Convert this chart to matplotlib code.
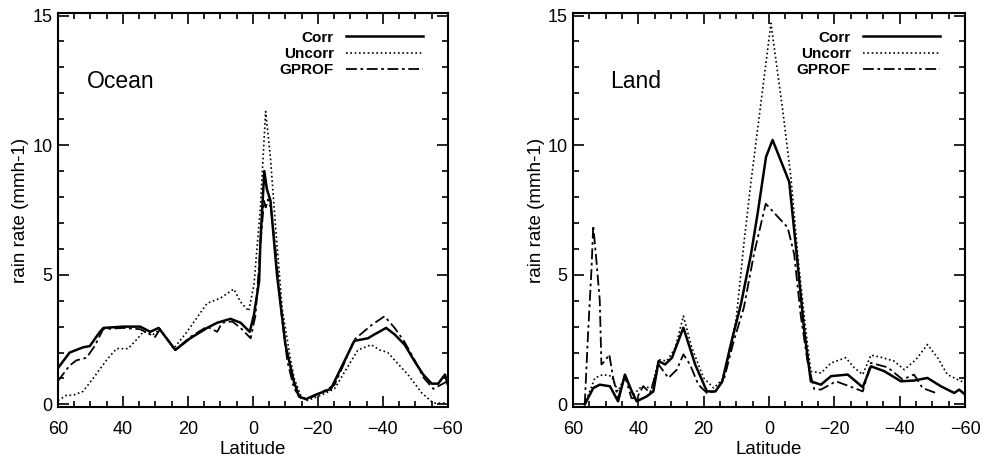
import matplotlib
matplotlib.use('Agg')
import matplotlib.pyplot as plt
from matplotlib.ticker import MultipleLocator

plt.rcParams['font.family'] = ['Liberation Sans', 'DejaVu Sans']

# ocean zonal means (latitude, rain rate)
ocean_corr_lat = [60, 56.4, 52.3, 50.2, 47.1, 46, 40, 34.7, 31.6, 29, 23.9, 19.3, 14.1, 11, 6.9, 3.8, 1.0,
                  -0.3, -1.9, -2.3, -3.5, -4.3, -5.4, -7.4, -10, -12.6, -14.2, -16.3, -18.9, -24, -27.1,
                  -31.2, -35.4, -37.4, -41, -43.6, -46.7, -49.8, -52.4, -55, -57, -59.1, -60]
ocean_corr = [1.4, 2.0, 2.2, 2.25, 2.8, 2.95, 3.0, 3.0, 2.8, 2.95, 2.1, 2.55, 2.95, 3.15, 3.3, 3.15, 2.8,
              3.45, 4.75, 6.3, 9.0, 8.3, 7.86, 5.0, 2.3, 0.88, 0.3, 0.2, 0.35, 0.6, 1.4,
              2.45, 2.55, 2.7, 2.95, 2.7, 2.3, 1.65, 1.15, 0.8, 0.8, 1.15, 0.75]

ocean_uncorr_lat = [60, 57.4, 55.4, 52.3, 49.2, 45.1, 42, 38.4, 35.8, 33.7, 30.6, 28.6, 24.4, 20.3, 14.1,
                    10, 5.9, 3.8, 1.3, -0.3, -2.3, -3.9, -5.4, -6.9, -9.0, -11.5, -12.7, -14.7, -16.8,
                    -20.9, -25.1, -28.2, -32.3, -36.4, -39, -41.5, -45.1, -47.7, -51.9, -55.5, -60]
ocean_uncorr = [0.15, 0.35, 0.35, 0.5, 1.0, 1.7, 2.15, 2.15, 2.5, 2.8, 2.7, 2.9, 2.15, 2.8, 3.9,
                4.1, 4.45, 3.95, 3.6, 4.6, 7.6, 11.3, 9.5, 6.95, 3.7, 1.78, 1.0, 0.35, 0.15,
                0.35, 0.6, 1.25, 2.1, 2.3, 2.1, 2.0, 1.5, 1.15, 0.45, 0.05, 0.05]

ocean_gprof_lat = [60, 56.4, 54.3, 51.2, 48.7, 46.1, 40, 34.7, 30.1, 28.6, 23.9, 19.3, 14.1, 11, 9.5, 6.4,
                   3.8, 0.7, -0.8, -2.4, -3.4, -4.0, -4.6, -5.5, -7, -8.6, -10.6, -12.7, -14.7, -16.8,
                   -20.9, -25.1, -27.6, -31.2, -36.4, -40.5, -43.6, -46.7, -49.8, -52.4, -55.5, -60]
ocean_gprof = [0.9, 1.5, 1.7, 1.8, 2.25, 2.9, 2.95, 2.9, 2.6, 2.9, 2.1, 2.6, 3.0, 2.8, 3.15, 3.2,
               2.95, 2.55, 3.45, 6.3, 7.85, 7.6, 7.9, 7.6, 5.9, 3.7, 1.65, 0.6, 0.25, 0.2,
               0.45, 0.75, 1.45, 2.5, 3.05, 3.4, 2.95, 2.4, 1.7, 1.05, 0.6, 0.9]

# land zonal means
land_corr_lat = [56.4, 53.8, 51.8, 48.7, 46.2, 44.1, 42.0, 40.5, 37.4, 35.4, 33.8, 31.8, 29.7, 26.2, 22.6,
                 19.0, 16.4, 14.3, 11.7, 8.6, 5.5, 3.5, 0.9, -1.1, -6.2, -8.7, -10.8, -12.8, -15.9, -19,
                 -24.1, -28.7, -31.2, -35.3, -40.4, -44.4, -48.5, -52.6, -56.7, -58.2, -60]
land_corr = [0, 0.63, 0.76, 0.7, 0.12, 1.15, 0.5, 0.12, 0.31, 0.5, 1.67, 1.54, 1.8, 2.96, 1.54,
             0.5, 0.5, 0.89, 2.31, 3.86, 5.8, 7.35, 9.55, 10.2, 8.58, 5.5, 2.83, 0.89, 0.76, 1.09,
             1.15, 0.66, 1.47, 1.28, 0.89, 0.92, 1.02, 0.70, 0.44, 0.57, 0.38]

land_uncorr_lat = [56.4, 53.3, 50.8, 48.2, 46.2, 44.1, 41.5, 39.0, 35.9, 33.8, 31.3, 28.7, 26.2, 23.6, 20.0,
                   16.9, 14.3, 12.6, 10.0, 7.7, 5.5, -0.6, -4.2, -6.7, -9.0, -11.3, -12.8, -15.9, -19,
                   -23.5, -26.1, -28.7, -31.2, -34.2, -38.3, -41.4, -45, -48.5, -51.6, -54.6, -57.7, -60]
land_uncorr = [0, 1.02, 1.15, 1.09, 0.5, 1.09, 0.37, 0.7, 0.63, 1.73, 1.67, 2.18, 3.41, 2.18, 1.02,
               0.63, 0.96, 1.67, 3.34, 6.19, 8.6, 14.7, 11.35, 8.77, 5.5, 2.83, 1.28, 1.21, 1.6,
               1.8, 1.41, 1.15, 1.9, 1.82, 1.67, 1.34, 1.73, 2.31, 1.8, 1.15, 0.96, 0.83]

land_gprof_lat = [56.4, 55.4, 54.3, 53.8, 52.8, 51.8, 51.3, 50.2, 48.9, 47.7, 46.2, 44.1, 42.1, 40.5, 38.5,
                  36.4, 33.8, 30.8, 28.2, 26.2, 24.2, 21.6, 19.0, 16.4, 13.8, 10.8, 7.7, 4.6, 1.0, -5.7,
                  -7.7, -9.7, -11.8, -13.8, -15.9, -20.5, -26.1, -28.7, -31.2, -36.3, -40.9, -44.4, -47, -51.1]
land_gprof = [0, 2.7, 5.3, 6.9, 5.5, 4.0, 1.54, 1.67, 1.93, 1.02, 0.24, 1.09, 0.24, 0.24, 0.7,
              0.44, 1.54, 1.02, 1.34, 1.93, 1.54, 0.76, 0.44, 0.5, 0.96, 2.44, 3.73, 5.8, 7.74, 6.83,
              5.8, 3.45, 1.65, 0.6, 0.57, 0.89, 0.63, 0.5, 1.6, 1.43, 0.96, 1.15, 0.63, 0.44]

series_labels = ['Corr', 'Uncorr', 'GPROF']


def drawPanel(ax, name, data, name_x):
  styles = [dict(ls='-', lw=1.8), dict(ls=(0, (1, 1.6)), lw=1.2), dict(ls=(0, (6, 2, 1.5, 2)), lw=1.3)]
  handles = []
  for (lat, val), st in zip(data, styles):
    h, = ax.plot(lat, val, color='black', **st)
    handles.append(h)

  ax.set_xlim(60, -60)
  ax.set_ylim(-0.1, 15.1)
  ax.xaxis.set_major_locator(MultipleLocator(20))
  ax.xaxis.set_minor_locator(MultipleLocator(5))
  ax.yaxis.set_major_locator(MultipleLocator(5))
  ax.yaxis.set_minor_locator(MultipleLocator(1))
  ax.tick_params(which='both', direction='in', top=True, right=True, width=1.2, labelsize=13)
  ax.tick_params(which='major', length=8)
  ax.tick_params(which='minor', length=4)
  ax.tick_params(axis='x', pad=10)
  ax.tick_params(axis='y', pad=4)
  ax.xaxis.set_major_formatter(plt.FuncFormatter(lambda v, p: '%d' % v if v >= 0 else '\u2212%d' % -v))
  for s in ax.spines.values():
    s.set_linewidth(1.5)

  ax.set_xlabel('Latitude', fontsize=13.5, labelpad=2)
  ax.set_ylabel('rain rate (mmh-1)', fontsize=13.5, labelpad=2)

  ax.text(name_x, 0.826, name, transform=ax.transAxes, fontsize=16.5, va='center', ha='left')
  ax.legend(handles, series_labels, loc='upper right', bbox_to_anchor=(0.935, 0.955),
            markerfirst=False, frameon=False, prop=dict(weight='bold', size=11),
            handlelength=5, handletextpad=0.8, labelspacing=0.15, borderpad=0, borderaxespad=0)


fig = plt.figure(figsize=(9.84, 4.58), dpi=100)
ax1 = fig.add_axes([0.0589, 0.1114, 0.3963, 0.8603])
ax2 = fig.add_axes([0.5823, 0.1114, 0.3984, 0.8603])

drawPanel(ax1, 'Ocean', [(ocean_corr_lat, ocean_corr), (ocean_uncorr_lat, ocean_uncorr),
                         (ocean_gprof_lat, ocean_gprof)], 0.074)
drawPanel(ax2, 'Land', [(land_corr_lat, land_corr), (land_uncorr_lat, land_uncorr),
                        (land_gprof_lat, land_gprof)], 0.094)

fig.savefig('out.png', dpi=100)
